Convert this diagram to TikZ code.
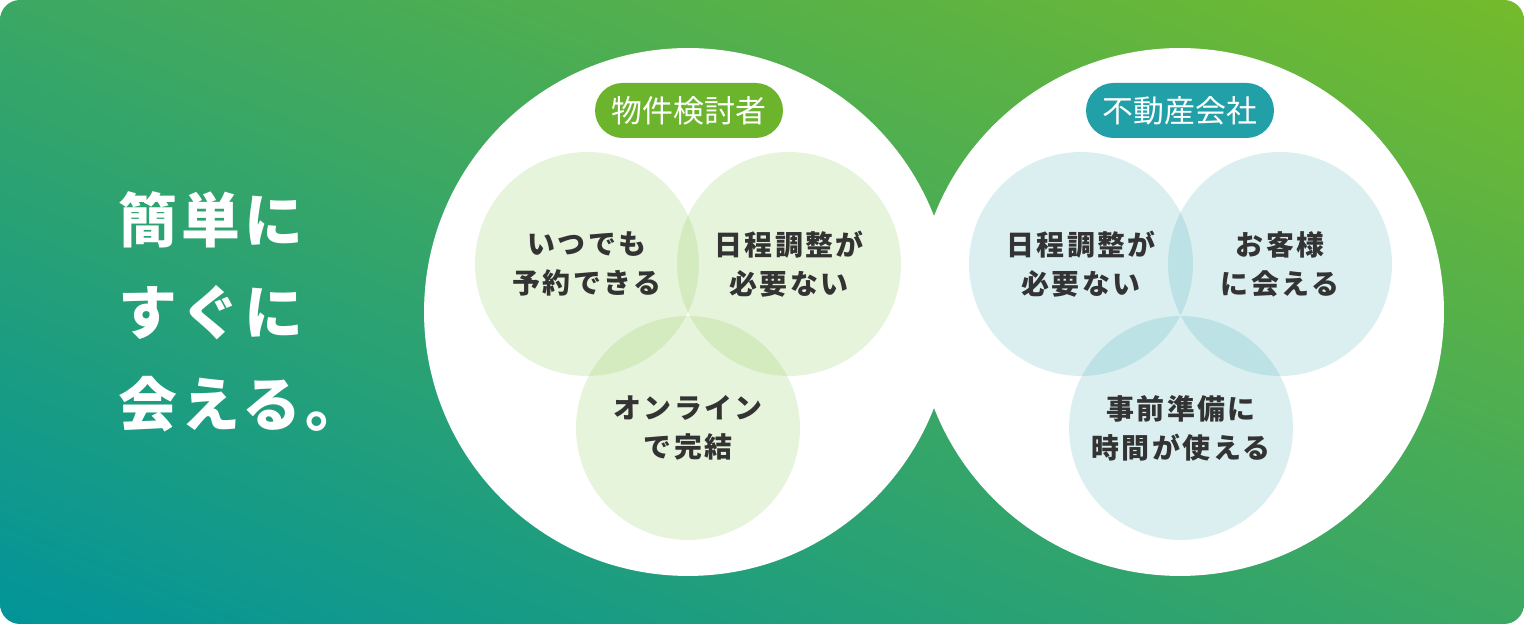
\documentclass[tikz,border=0pt]{standalone}
\usepackage{fontspec}
\usepackage{tikz}
\newfontfamily\jpfont{Noto Sans CJK JP}
\newfontfamily\jpspaced[LetterSpace=9]{Noto Sans CJK JP}
\newfontfamily\jpwide[LetterSpace=7]{Noto Sans CJK JP}
\definecolor{bgteal}{RGB}{2,148,154}
\definecolor{bgmid}{RGB}{62,167,92}
\definecolor{bglime}{RGB}{116,187,44}
\definecolor{pillgreen}{RGB}{108,180,44}
\definecolor{leafgreen}{RGB}{110,190,40}
\definecolor{pillteal}{RGB}{33,160,168}
\definecolor{textgray}{RGB}{51,51,51}
\tikzset{every picture/.style={line width=0.75pt}}

\begin{document}
\begin{tikzpicture}[x=0.02cm, y=0.02cm,
    bigdisc/.style={circle, fill=white, minimum size=10.56cm, inner sep=0pt},
    merit/.style={circle, minimum size=4.48cm, inner sep=0pt, fill opacity=0.16, text opacity=1,
        text=textgray, align=center, font=\jpspaced\bfseries\fontsize{15.9pt}{22.1pt}\selectfont},
    pill/.style={rounded corners=0.55cm, minimum width=3.76cm, minimum height=1.1cm, inner sep=0pt,
        text=white, font=\jpfont\fontsize{17.6pt}{20pt}\selectfont}]
    % 背景
    \fill[white] (0,0) rectangle (1524,624);
    \begin{scope}
        \clip[rounded corners=0.4cm] (0,0) rectangle (1524,624);
        \begin{scope}[transform canvas={rotate around={-22.3:(762,312)}}]
            \shade[bottom color=bgteal, middle color=bgmid, top color=bglime] (-138,-266) rectangle (1662,890);
        \end{scope}
    \end{scope}

    % 見出し
    \node[anchor=west, inner sep=0pt, text=white, align=left,
        font=\jpwide\bfseries\fontsize{33.5pt}{52.2pt}\selectfont] (catch) at (118,312) {簡単に\\すぐに\\会える。};

    % 大きい円
    \node[bigdisc] (seekdisc) at (688,312) {};
    \node[bigdisc] (agentdisc) at (1180,312) {};

    % 物件検討者
    \node[merit, fill=leafgreen] (s1) at (587,360) {いつでも\\予約できる};
    \node[merit, fill=leafgreen] (s2) at (789,360) {日程調整が\\必要ない};
    \node[merit, fill=leafgreen] (s3) at (688,196) {オンライン\\で完結};
    \node[pill, fill=pillgreen] (seeker) at (689,513.5) {物件検討者};

    % 不動産会社
    \node[merit, fill=pillteal] (a1) at (1081,360) {日程調整が\\必要ない};
    \node[merit, fill=pillteal] (a2) at (1280,360) {お客様\\に会える};
    \node[merit, fill=pillteal] (a3) at (1181,196) {事前準備に\\時間が使える};
    \node[pill, fill=pillteal] (agent) at (1180,513.5) {不動産会社};
\end{tikzpicture}
\end{document}
